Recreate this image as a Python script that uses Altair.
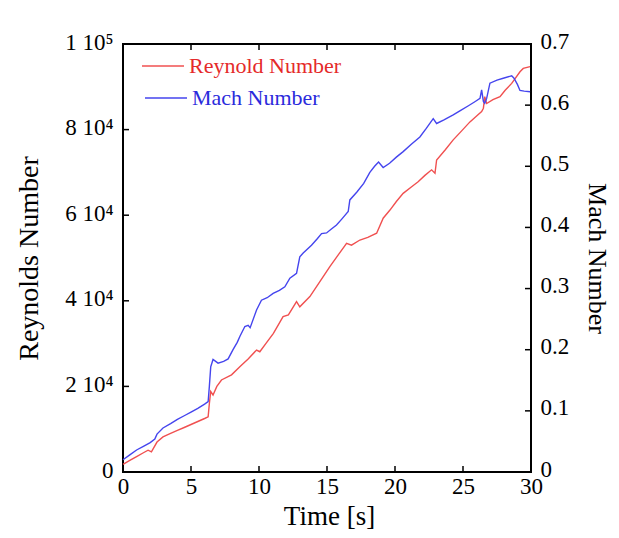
import altair as alt
import pandas as pd

# ---- data ----
time_re = [0, 0.5, 1.0, 1.5, 1.84, 2.09, 2.5, 2.94, 3.5, 4.0, 4.5, 5.0, 5.5, 6.0, 6.26,
           6.35, 6.45, 6.62, 6.9, 7.24, 7.98, 8.59, 9.2, 9.82, 10.06, 10.5, 11.06, 11.77,
           12.16, 12.76, 13.0, 13.74, 14.5, 15.21, 15.8, 16.44, 16.8, 17.42, 18.0, 18.65,
           19.13, 19.63, 20.1, 20.6, 21.2, 21.7, 22.2, 22.69, 22.94, 23.06, 23.7, 24.28,
           24.9, 25.51, 26.0, 26.37, 26.5, 26.6, 26.74, 27.2, 27.72, 28.1, 28.58, 29.19,
           29.43, 29.93]
reynolds = [1800, 2700, 3600, 4500, 5100, 4700, 7000, 8200, 9000, 9700, 10400, 11100,
            11800, 12500, 12900, 16000, 18800, 18000, 20000, 21500, 22700, 24600, 26400,
            28500, 28100, 30000, 32400, 36300, 36700, 39800, 38600, 41000, 44600, 48000,
            50600, 53400, 53000, 54200, 54800, 55800, 59300, 61200, 63200, 65100, 66600,
            67800, 69300, 70600, 69800, 72900, 75300, 77600, 79700, 81800, 83200, 84200,
            85000, 87700, 86100, 87000, 87700, 89200, 90800, 93500, 94300, 94700]

time_mach = [0, 0.5, 1.0, 1.5, 2.0, 2.34, 2.5, 2.94, 3.5, 4.0, 4.5, 5.0, 5.5, 6.0, 6.26,
             6.35, 6.45, 6.62, 6.99, 7.4, 7.73, 8.09, 8.4, 8.6, 8.96, 9.2, 9.35, 9.82,
             10.18, 10.6, 11.04, 11.5, 11.9, 12.27, 12.76, 13.0, 13.25, 13.86, 14.3, 14.6,
             14.97, 15.3, 15.7, 16.1, 16.56, 16.68, 17.2, 17.7, 18.15, 18.5, 18.79, 19.13,
             19.6, 20.1, 20.6, 21.2, 21.83, 22.3, 22.81, 23.06, 23.6, 24.28, 24.8, 25.4,
             25.9, 26.25, 26.37, 26.5, 26.6, 26.74, 26.98, 27.5, 27.96, 28.58, 28.75, 29.0,
             29.19, 29.5, 29.93]
mach = [0.020, 0.028, 0.036, 0.042, 0.048, 0.054, 0.062, 0.072, 0.079, 0.086, 0.092,
        0.098, 0.104, 0.111, 0.115, 0.140, 0.172, 0.184, 0.178, 0.181, 0.185, 0.200,
        0.212, 0.222, 0.238, 0.240, 0.236, 0.265, 0.281, 0.285, 0.292, 0.297, 0.303,
        0.317, 0.325, 0.352, 0.358, 0.371, 0.382, 0.390, 0.391, 0.397, 0.404, 0.414,
        0.426, 0.445, 0.458, 0.472, 0.490, 0.500, 0.507, 0.498, 0.505, 0.515, 0.524,
        0.536, 0.548, 0.562, 0.578, 0.570, 0.576, 0.584, 0.591, 0.599, 0.606, 0.611,
        0.625, 0.606, 0.603, 0.611, 0.636, 0.641, 0.644, 0.648, 0.644, 0.634, 0.624,
        0.623, 0.622]

x_labels = [0, 5, 10, 15, 20, 25, 30]
x_ticks = [5, 10, 15, 20, 25]
re_labels = [0, 20000, 40000, 60000, 80000, 100000]
re_ticks = [20000, 40000, 60000, 80000]
mach_labels = [0, 0.1, 0.2, 0.3, 0.4, 0.5, 0.6, 0.7]
mach_ticks = [0.1, 0.2, 0.3, 0.4, 0.5, 0.6]

series_names = ["Reynold Number", "Mach Number"]

# ---- style ----
FONT = "Liberation Serif"
RED = "#f05050"
BLUE = "#4545ee"
RED_TXT = "#e52a2a"
BLUE_TXT = "#2b2bdc"
W, H = 408, 428
TICK = 6

re_df = pd.DataFrame({"t": time_re, "v": reynolds, "series": series_names[0]})
mach_df = pd.DataFrame({"t": time_mach, "v": mach, "series": series_names[1]})

xscale = alt.Scale(domain=[0, 30], nice=False, zero=False)
re_scale = alt.Scale(domain=[0, 100000], nice=False)
mach_scale = alt.Scale(domain=[0, 0.7], nice=False)

x_axis = alt.Axis(values=x_labels, ticks=False, tickSize=0, domain=False, grid=False,
                  labelPadding=3, labelFlush=False, labelFont=FONT, labelFontSize=23,
                  labelColor="black", title="Time [s]", titleFont=FONT, titleFontSize=27,
                  titleFontWeight="normal", titleColor="black", titleX=W / 2 + 2, titleY=52,
                  titleAlign="center", titleBaseline="alphabetic")

left_axis = alt.Axis(orient="left", values=re_labels, ticks=False, tickSize=0, domain=False,
                     grid=False, labelPadding=10, labelFont=FONT, labelFontSize=23,
                     labelColor="black", labelBaseline="middle", labelOffset=-2,
                     labelExpr="datum.value == 0 ? '0' : (datum.value >= 100000 ? '1 10\u2075' : format(datum.value / 10000, 'd') + ' 10\u2074')",
                     title="Reynolds Number", titleFont=FONT, titleFontSize=28,
                     titleFontWeight="normal", titleColor="black", titleAngle=-90,
                     titleX=-94, titleY=H / 2, titleAlign="center", titleBaseline="middle")

right_axis = alt.Axis(orient="right", values=mach_labels, ticks=False, tickSize=0, domain=False,
                      grid=False, labelPadding=9, labelFont=FONT, labelFontSize=23,
                      labelColor="black", labelBaseline="middle", labelOffset=-3,
                      labelExpr="datum.value == 0 ? '0' : format(datum.value, '.1f')",
                      title="Mach Number", titleFont=FONT, titleFontSize=26,
                      titleFontWeight="normal", titleColor="black", titleAngle=90,
                      titleX=65, titleY=H / 2, titleAlign="center", titleBaseline="middle")

def legend(x, y, color):
    return alt.Legend(orient="none", legendX=x, legendY=y, title=None, symbolType="stroke",
                      symbolSize=1764, symbolStrokeWidth=1.5, labelFont=FONT,
                      labelFontSize=22, labelColor=color, labelOffset=4, padding=0)

red_line = alt.Chart(re_df).mark_line(strokeWidth=1.4).encode(
    x=alt.X("t:Q", scale=xscale, axis=x_axis),
    y=alt.Y("v:Q", scale=re_scale, axis=left_axis),
    color=alt.Color("series:N", scale=alt.Scale(domain=[series_names[0]], range=[RED]),
                    legend=legend(18, 0, RED_TXT)),
)

left_ticks = alt.Chart(pd.DataFrame({"v": re_ticks})).mark_rule(color="black", strokeWidth=1.5).encode(
    y=alt.Y("v:Q", scale=re_scale, axis=left_axis), x=alt.value(0), x2=alt.value(TICK))

xt_df = pd.DataFrame({"t": x_ticks})
bottom_ticks = alt.Chart(xt_df).mark_rule(color="black", strokeWidth=1.5).encode(
    x=alt.X("t:Q", scale=xscale, axis=x_axis), y=alt.value(H), y2=alt.value(H - TICK))
top_ticks = alt.Chart(xt_df).mark_rule(color="black", strokeWidth=1.5).encode(
    x=alt.X("t:Q", scale=xscale, axis=x_axis), y=alt.value(0), y2=alt.value(TICK))

blue_line = alt.Chart(mach_df).mark_line(strokeWidth=1.4).encode(
    x=alt.X("t:Q", scale=xscale, axis=x_axis),
    y=alt.Y("v:Q", scale=mach_scale, axis=right_axis),
    color=alt.Color("series:N", scale=alt.Scale(domain=[series_names[1]], range=[BLUE]),
                    legend=legend(21, 32, BLUE_TXT)),
)

right_ticks = alt.Chart(pd.DataFrame({"v": mach_ticks})).mark_rule(color="black", strokeWidth=1.5).encode(
    y=alt.Y("v:Q", scale=mach_scale, axis=right_axis), x=alt.value(W), x2=alt.value(W - TICK))

group_re = alt.layer(red_line, left_ticks, bottom_ticks, top_ticks)
group_mach = alt.layer(blue_line, right_ticks)

chart = alt.layer(group_re, group_mach).resolve_scale(
    y="independent", color="independent"
).properties(
    width=W, height=H,
    autosize=alt.AutoSizeParams(type="none"),
    padding={"left": 115, "top": 36, "right": 80, "bottom": 58},
    background="white",
).configure_view(stroke="black", strokeWidth=2)

chart.save("out.html", embed_options={"renderer": "svg", "actions": False})
